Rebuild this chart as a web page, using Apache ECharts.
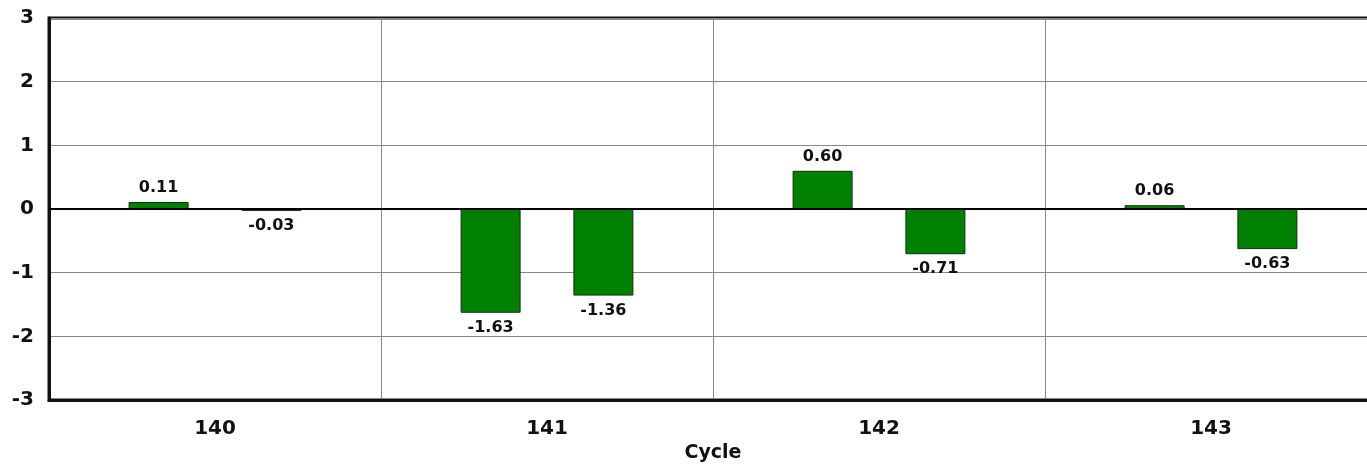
<!DOCTYPE html>
<html><head><meta charset="utf-8">
<script src="https://cdn.jsdelivr.net/npm/echarts@6/dist/echarts.min.js"></script>
<style>html,body{margin:0;padding:0;background:#fff;overflow:hidden;width:1367px;height:466px}
#wrap{width:1367px;height:466px;overflow:hidden;position:relative}
#c{width:1377px;height:466px;position:absolute;left:0;top:0}</style>
</head><body><div id="wrap"><div id="c"></div></div>
<script>
const categories = ['140', '141', '142', '143'];
const seriesA = [0.11, -1.63, 0.60, 0.06];
const seriesB = [-0.03, -1.36, -0.71, -0.63];
const yTicks = [-3, -2, -1, 0, 1, 2, 3];

const FONT = 'DejaVu Sans';
function toData(arr) {
  return arr.map(v => ({ value: v, label: v >= 0 ? { position: 'top', distance: 6 } : { position: 'bottom', distance: 7 } }));
}
const barStyle = {
  type: 'bar', barWidth: 60, barGap: '88%',
  itemStyle: { color: '#008000', borderColor: '#123012', borderWidth: 1 },
  label: { show: true, formatter: p => p.value.toFixed(2), fontFamily: FONT, fontWeight: 'bold', fontSize: 16, color: '#111' }
};
const chart = echarts.init(document.getElementById('c'));
chart.setOption({
  animation: false,
  grid: { left: 49, right: 0, top: 18, bottom: 66, outerBoundsMode: 'none', containLabel: false, show: true, borderColor: '#111', borderWidth: 3, backgroundColor: '#fff' },
  xAxis: {
    type: 'category', data: categories, position: 'bottom',
    name: 'Cycle', nameLocation: 'middle', nameGap: 44,
    nameTextStyle: { fontFamily: FONT, fontWeight: 'bold', fontSize: 19, color: '#111' },
    axisLine: { onZero: false, lineStyle: { color: '#111', width: 3 } },
    axisTick: { show: false },
    axisLabel: { fontFamily: FONT, fontWeight: 'bold', fontSize: 20, color: '#111', margin: 19 },
    splitLine: { show: true, lineStyle: { color: '#888', width: 1 } }
  },
  yAxis: {
    type: 'value', min: yTicks[0], max: yTicks[yTicks.length - 1], interval: 1,
    axisLine: { show: true, lineStyle: { color: '#111', width: 3 } },
    axisTick: { show: false },
    axisLabel: { fontFamily: FONT, fontWeight: 'bold', fontSize: 20, color: '#111', margin: 15 },
    splitLine: { show: true, lineStyle: { color: '#888', width: 1 } }
  },
  series: [
    Object.assign({}, barStyle, {
      name: 'A', data: toData(seriesA),
      markLine: { silent: true, symbol: 'none', label: { show: false }, lineStyle: { color: '#000', width: 2, type: 'solid' }, data: [{ yAxis: 0 }] }
    }),
    Object.assign({}, barStyle, { name: 'B', data: toData(seriesB) })
  ]
});
</script></body></html>
